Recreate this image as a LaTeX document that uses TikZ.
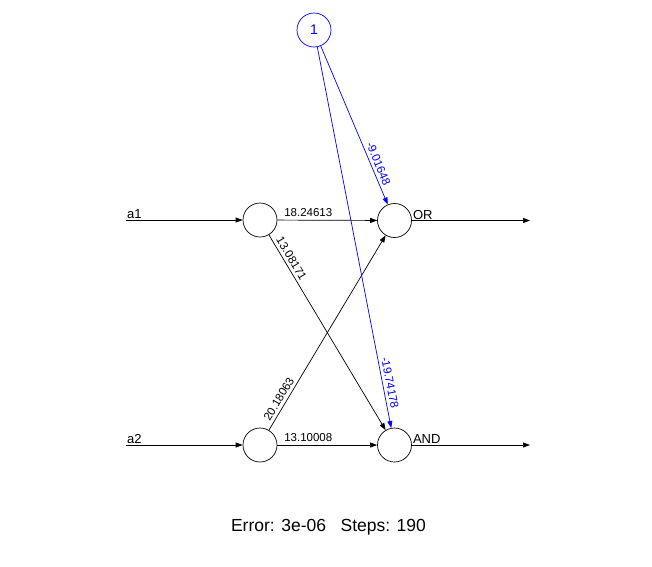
\documentclass[tikz,border=0pt]{standalone}
\usepackage{fontspec}
\setmainfont{Liberation Sans}
\usetikzlibrary{arrows.meta, positioning}

\begin{document}
\begin{tikzpicture}[x=1pt, y=-1pt,
    neuron/.style={circle, draw, line width=0.7pt, minimum size=34pt, inner sep=0pt},
    arr/.style={-{Triangle[length=7pt, width=5pt]}, line width=0.7pt},
    wlab/.style={sloped, above, inner sep=3pt, font=\fontsize{11.5}{13}\selectfont},
    iolab/.style={anchor=south west, inner sep=1pt, font=\fontsize{13}{15}\selectfont},
  ]
  \useasboundingbox (0,0) rectangle (652,566);
  % neurons
  \node[neuron, draw=blue, text=blue, font=\fontsize{14}{16}\selectfont] (one) at (314,30) {1};
  \node[neuron] (a1) at (260,220) {};
  \node[neuron] (a2) at (260,445) {};
  \node[neuron] (or) at (394.5,220.5) {};
  \node[neuron] (and) at (394.5,445) {};
  % inputs and outputs
  \coordinate (in1) at (126,220);
  \coordinate (in2) at (126,445);
  \coordinate (out1) at (530,220.5);
  \coordinate (out2) at (530,445);
  \draw[arr] (in1) -- (a1);
  \draw[arr] (in2) -- (a2);
  \draw[arr] (or) -- (out1);
  \draw[arr] (and) -- (out2);
  \node[iolab] (lab1) at (in1) {a1};
  \node[iolab] (lab2) at (in2) {a2};
  \node[iolab] (labor) at (or.east) {OR};
  \node[iolab] (laband) at (and.east) {AND};
  % weights
  \draw[arr] (a1) -- node[wlab, pos=0.31] {18.24613} (or);
  \draw[arr] (a1) -- node[wlab, pos=0.14] {13.08171} (and);
  \draw[arr] (a2) -- node[wlab, pos=0.14] {20.18063} (or);
  \draw[arr] (a2) -- node[wlab, pos=0.31] {13.10008} (and);
  \draw[arr, blue] (one) -- node[wlab, pos=0.76] {-9.01648} (or);
  \draw[arr, blue] (one) -- node[wlab, pos=0.885] {-19.74178} (and);
  \node[font=\fontsize{17.5}{20}\selectfont] (info) at (328.5,527) {Error: 3e-06\ \ \ Steps: 190};
\end{tikzpicture}
\end{document}
